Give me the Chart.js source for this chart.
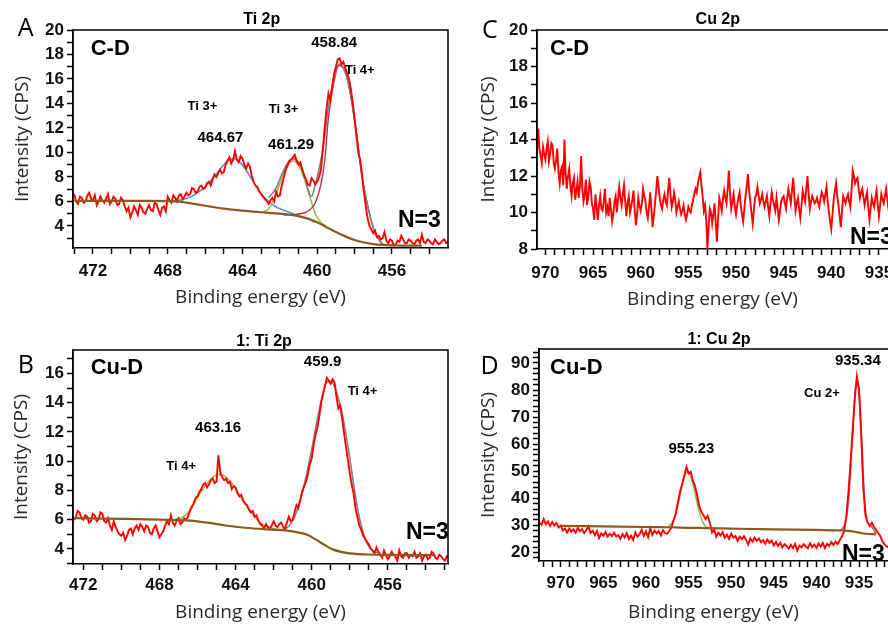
<!DOCTYPE html>
<html><head><meta charset="utf-8">
<script src="https://cdn.jsdelivr.net/npm/chart.js@4.4.0/dist/chart.umd.min.js"></script>
<style>
html,body{margin:0;padding:0;background:#fff;overflow:hidden;width:888px;height:624px;}
canvas{position:absolute;}
</style></head><body>
<canvas id="cA" width="452" height="312" style="left:0;top:0"></canvas>
<canvas id="cB" width="452" height="312" style="left:0;top:312px"></canvas>
<canvas id="cC" width="436" height="312" style="left:452px;top:0"></canvas>
<canvas id="cD" width="436" height="312" style="left:452px;top:312px"></canvas>
<script>
// ---------- Panel A : C-D, Ti 2p ----------
const aRaw = [[473.0,6.6],[472.9,6.0],[472.8,5.8],[472.7,6.4],[472.6,6.3],[472.5,5.9],[472.4,6.0],[472.3,6.5],[472.2,6.7],[472.1,6.2],[472.0,6.1],[471.9,6.5],[471.8,5.7],[471.7,6.0],[471.6,6.4],[471.5,6.1],[471.4,5.9],[471.3,6.2],[471.2,6.6],[471.1,5.8],[471.0,6.0],[470.9,6.4],[470.8,6.2],[470.7,5.7],[470.6,5.8],[470.5,6.3],[470.4,6.1],[470.3,5.6],[470.2,5.2],[470.1,5.5],[470.0,4.7],[469.9,5.1],[469.8,5.6],[469.7,5.3],[469.6,4.9],[469.5,5.7],[469.4,5.5],[469.3,5.1],[469.2,5.0],[469.1,5.4],[469.0,5.7],[468.9,5.3],[468.8,5.2],[468.7,5.9],[468.6,5.8],[468.5,5.3],[468.4,4.9],[468.3,5.5],[468.2,5.6],[468.1,5.2],[468.0,6.4],[467.9,6.1],[467.8,5.9],[467.7,6.5],[467.6,6.3],[467.5,6.0],[467.4,6.5],[467.3,6.6],[467.2,6.2],[467.1,6.4],[467.0,6.7],[466.9,6.5],[466.8,6.6],[466.7,7.1],[466.6,7.0],[466.5,6.7],[466.4,6.8],[466.3,7.2],[466.2,7.3],[466.1,7.0],[466.0,7.1],[465.9,7.5],[465.8,7.6],[465.7,7.3],[465.6,7.8],[465.5,8.2],[465.4,8.0],[465.3,8.3],[465.2,8.6],[465.1,8.3],[465.0,8.4],[464.9,9.0],[464.8,9.3],[464.7,9.6],[464.6,9.1],[464.5,9.4],[464.4,10.1],[464.3,9.4],[464.2,9.2],[464.1,9.7],[464.0,9.5],[463.9,9.0],[463.8,8.7],[463.7,9.1],[463.6,8.8],[463.5,8.1],[463.4,7.6],[463.3,7.3],[463.2,7.2],[463.1,6.8],[463.0,6.6],[462.9,6.4],[462.8,6.2],[462.7,6.0],[462.6,5.8],[462.5,6.1],[462.4,6.3],[462.3,6.0],[462.2,6.8],[462.1,6.4],[462.0,6.5],[461.9,7.3],[461.8,7.9],[461.7,8.5],[461.6,8.9],[461.5,9.3],[461.4,9.4],[461.3,9.6],[461.2,9.8],[461.1,9.3],[461.0,9.0],[460.9,9.2],[460.8,8.6],[460.7,8.1],[460.6,7.8],[460.5,7.4],[460.4,7.3],[460.3,7.9],[460.2,7.7],[460.1,7.4],[460.0,7.6],[459.9,8.0],[459.8,8.6],[459.7,10.3],[459.6,12.0],[459.5,13.6],[459.4,14.8],[459.3,14.2],[459.2,15.4],[459.1,16.4],[459.0,17.0],[458.9,17.6],[458.8,17.7],[458.7,17.2],[458.6,17.4],[458.5,16.9],[458.4,16.5],[458.3,16.0],[458.2,15.2],[458.1,14.1],[458.0,12.8],[457.9,11.3],[457.8,10.0],[457.7,9.4],[457.6,8.2],[457.5,6.8],[457.4,5.6],[457.3,4.6],[457.2,4.0],[457.1,3.7],[457.0,3.4],[456.9,3.6],[456.8,3.1],[456.7,3.2],[456.6,2.9],[456.5,3.0],[456.4,3.5],[456.3,2.8],[456.2,2.6],[456.1,2.9],[456.0,2.8],[455.9,2.4],[455.8,2.5],[455.7,2.8],[455.6,2.7],[455.5,3.2],[455.4,2.9],[455.3,2.6],[455.2,2.6],[455.1,2.9],[455.0,2.8],[454.9,2.6],[454.8,2.5],[454.7,2.8],[454.6,2.9],[454.5,2.6],[454.4,3.3],[454.3,2.7],[454.2,2.6],[454.1,2.9],[454.0,2.8],[453.9,2.6],[453.8,2.5],[453.7,2.9],[453.6,2.7],[453.5,2.5],[453.4,2.6],[453.3,2.8],[453.2,2.9],[453.1,2.6],[453.0,2.7]];
const aBackground = [[473.0,6.05],[471.0,6.05],[469.0,6.05],[468.0,6.03],[467.5,6.0],[467.0,5.9],[466.0,5.65],[465.0,5.42],[464.0,5.25],[463.0,5.12],[462.0,5.0],[461.5,4.92],[461.0,4.8],[460.5,4.6],[460.0,4.3],[459.5,3.9],[459.0,3.5],[458.5,3.15],[458.0,2.85],[457.5,2.65],[457.0,2.52],[456.5,2.45],[456.0,2.42],[455.0,2.4],[454.4,2.4]];
const aTi3High = [[467.8,6.02],[467.4,6.1],[467.0,6.25],[466.5,6.6],[466.0,7.2],[465.5,8.05],[465.0,9.0],[464.7,9.45],[464.4,9.5],[464.1,9.15],[463.8,8.55],[463.5,7.8],[463.2,7.05],[462.9,6.45],[462.6,6.0],[462.2,5.55],[461.8,5.3],[461.3,5.0],[460.9,4.76],[460.5,4.58],[460.1,4.3]];
const aTi3Low = [[463.2,5.12],[462.8,5.2],[462.5,5.6],[462.2,6.6],[461.9,7.9],[461.6,8.9],[461.3,9.3],[461.0,9.0],[460.7,7.9],[460.4,6.4],[460.1,5.0],[459.8,4.3],[459.5,3.95]];
const aTi4 = [[461.8,4.9],[460.9,5.0],[460.4,5.3],[460.1,5.9],[459.8,7.4],[459.6,9.3],[459.4,12.8],[459.0,16.5],[458.85,17.1],[458.6,16.9],[458.3,15.4],[457.9,11.6],[457.6,8.0],[457.2,5.0],[456.9,3.4],[456.5,2.5]];
const aEnvelope = [[462.6,6.3],[462.2,7.1],[461.9,8.2],[461.6,9.1],[461.3,9.5],[461.0,9.2],[460.7,8.2],[460.5,7.0],[460.3,6.4],[460.1,7.4],[459.7,10.2],[459.4,13.7],[459.0,16.7],[458.85,17.2],[458.6,16.9],[458.3,15.4],[457.9,11.6],[457.6,8.0],[457.2,5.0],[456.9,3.4],[456.5,2.5]];
const aXTicks = [473,472,471,470,469,468,467,466,465,464,463,462,461,460,459,458,457,456,455,454];
const aXLabels = [472,468,464,460,456];
const aYTicks = [3,4,5,6,7,8,9,10,11,12,13,14,15,16,17,18,19,20];
const aYLabels = [4,6,8,10,12,14,16,18,20];
const aPeaks = ['464.67','461.29','458.84'];
const aStates = ['Ti 3+','Ti 3+','Ti 4+'];

// ---------- Panel B : Cu-D, Ti 2p ----------
const bRaw = [[472.6,6.4],[472.5,6.0],[472.4,6.1],[472.3,6.6],[472.2,6.5],[472.1,6.1],[472.0,6.0],[471.9,6.3],[471.8,6.2],[471.7,5.8],[471.6,5.9],[471.5,6.4],[471.4,6.3],[471.3,5.9],[471.2,6.0],[471.1,6.5],[471.0,6.4],[470.9,5.9],[470.8,5.8],[470.7,6.1],[470.6,5.6],[470.5,5.3],[470.4,5.9],[470.3,5.5],[470.2,5.2],[470.1,5.0],[470.0,4.9],[469.9,5.1],[469.8,4.6],[469.7,4.9],[469.6,5.3],[469.5,5.4],[469.4,5.0],[469.3,5.4],[469.2,5.6],[469.1,5.3],[469.0,5.7],[468.9,5.5],[468.8,5.2],[468.7,5.6],[468.6,5.5],[468.5,5.1],[468.4,5.0],[468.3,5.4],[468.2,5.6],[468.1,5.2],[468.0,4.8],[467.9,5.0],[467.8,5.2],[467.7,5.6],[467.6,5.9],[467.5,5.7],[467.4,6.3],[467.3,5.8],[467.2,5.6],[467.1,5.9],[467.0,6.1],[466.9,5.7],[466.8,5.8],[466.7,6.1],[466.6,6.0],[466.5,6.2],[466.4,6.6],[466.3,6.9],[466.2,7.1],[466.1,7.5],[466.0,7.6],[465.9,7.9],[465.8,8.1],[465.7,8.4],[465.6,8.5],[465.5,8.2],[465.4,8.4],[465.3,8.7],[465.2,8.8],[465.1,8.5],[465.0,8.6],[464.9,10.4],[464.8,9.2],[464.7,8.9],[464.6,8.7],[464.5,8.8],[464.4,8.5],[464.3,8.6],[464.2,8.1],[464.1,8.3],[464.0,8.2],[463.9,7.8],[463.8,7.6],[463.7,7.7],[463.6,7.3],[463.5,7.1],[463.4,7.0],[463.3,6.7],[463.2,6.5],[463.1,6.6],[463.0,6.2],[462.9,6.3],[462.8,5.9],[462.7,5.7],[462.6,5.6],[462.5,5.4],[462.4,5.7],[462.3,5.5],[462.2,5.4],[462.1,5.6],[462.0,5.9],[461.9,5.6],[461.8,5.5],[461.7,5.7],[461.6,5.8],[461.5,5.5],[461.4,5.4],[461.3,5.8],[461.2,6.2],[461.1,5.9],[461.0,6.0],[460.9,6.5],[460.8,7.0],[460.7,6.8],[460.6,7.4],[460.5,7.9],[460.4,8.3],[460.3,8.6],[460.2,9.1],[460.1,9.8],[460.0,10.2],[459.9,11.1],[459.8,11.8],[459.7,12.3],[459.6,13.1],[459.5,14.0],[459.4,14.6],[459.3,15.2],[459.2,15.7],[459.1,15.5],[459.0,15.3],[458.9,15.6],[458.8,15.4],[458.7,14.4],[458.6,13.6],[458.5,13.8],[458.4,12.9],[458.3,11.9],[458.2,11.0],[458.1,10.1],[458.0,9.2],[457.9,8.4],[457.8,7.8],[457.7,6.8],[457.6,6.2],[457.5,5.6],[457.4,5.3],[457.3,4.9],[457.2,4.7],[457.1,4.5],[457.0,4.3],[456.9,4.0],[456.8,3.9],[456.7,3.7],[456.6,4.1],[456.5,3.8],[456.4,3.6],[456.3,3.4],[456.2,3.9],[456.1,3.6],[456.0,3.3],[455.9,3.5],[455.8,3.8],[455.7,3.6],[455.6,3.5],[455.5,3.2],[455.4,3.9],[455.3,3.5],[455.2,3.4],[455.1,3.7],[455.0,3.7],[454.9,3.4],[454.8,3.6],[454.7,3.5],[454.6,3.8],[454.5,3.4],[454.4,3.5],[454.3,3.7],[454.2,3.2],[454.1,3.5],[454.0,3.6],[453.9,3.3],[453.8,3.4],[453.7,3.8],[453.6,3.7],[453.5,3.4],[453.4,3.3],[453.3,3.6],[453.2,3.5],[453.1,3.3],[453.0,3.2],[452.9,3.5],[452.8,3.4]];
const bBackground = [[472.5,6.1],[470.0,6.05],[468.0,6.0],[466.6,5.95],[465.5,5.8],[464.5,5.6],[463.5,5.45],[462.5,5.35],[461.5,5.28],[460.6,5.1],[460.2,4.95],[459.8,4.65],[459.3,4.25],[458.9,3.97],[458.4,3.78],[458.0,3.7],[457.0,3.62],[456.0,3.6],[453.5,3.57]];
const bTi4High = [[467.2,6.0],[466.8,6.15],[466.4,6.6],[466.0,7.5],[465.6,8.3],[465.2,8.9],[464.9,9.1],[464.6,9.0],[464.2,8.5],[463.8,7.7],[463.4,6.9],[463.0,6.2],[462.6,5.7],[462.2,5.45],[461.8,5.35],[461.3,5.28]];
const bEnvelope = [[461.6,5.3],[461.2,5.55],[460.9,6.2],[460.6,7.3],[460.3,8.9],[460.0,10.8],[459.7,12.9],[459.4,14.7],[459.2,15.4],[459.0,15.5],[458.8,15.1],[458.6,14.3],[458.3,12.6],[458.0,10.2],[457.7,7.6],[457.4,5.6],[457.1,4.4],[456.8,3.9],[456.4,3.7]];
const bXTicks = [472,471,470,469,468,467,466,465,464,463,462,461,460,459,458,457,456,455,454,453];
const bXLabels = [472,468,464,460,456];
const bYTicks = [3,4,5,6,7,8,9,10,11,12,13,14,15,16,17];
const bYLabels = [4,6,8,10,12,14,16];
const bPeaks = ['463.16','459.9'];
const bStates = ['Ti 4+','Ti 4+'];

// ---------- Panel C : C-D, Cu 2p ----------
const cRaw = [[971.0,12.6],[970.875,13.4],[970.75,14.6],[970.625,13.5],[970.5,13.1],[970.375,12.7],[970.25,13.6],[970.125,13.2],[970.0,12.9],[969.875,13.5],[969.75,13.9],[969.625,12.8],[969.5,13.2],[969.375,13.8],[969.25,13.7],[969.125,12.7],[969.0,12.4],[968.875,12.9],[968.75,13.5],[968.625,12.2],[968.5,11.6],[968.375,12.3],[968.25,12.5],[968.125,11.5],[968.0,14.0],[967.875,12.1],[967.75,11.3],[967.625,12.0],[967.5,12.4],[967.375,11.5],[967.25,10.9],[967.125,11.6],[967.0,11.9],[966.875,10.7],[966.75,11.2],[966.625,11.7],[966.5,10.8],[966.375,11.4],[966.25,13.1],[966.125,11.3],[966.0,10.6],[965.875,11.0],[965.75,11.8],[965.625,10.4],[965.5,10.9],[965.375,11.7],[965.25,11.4],[965.125,10.5],[965.0,10.2],[964.875,9.6],[964.75,11.0],[964.625,10.3],[964.5,9.6],[964.375,10.4],[964.25,10.9],[964.125,10.2],[964.0,10.1],[963.875,10.6],[963.75,11.3],[963.625,10.0],[963.5,10.3],[963.375,9.8],[963.25,10.8],[963.125,10.2],[963.0,9.5],[962.875,9.9],[962.75,10.6],[962.625,10.9],[962.5,10.0],[962.375,10.7],[962.25,11.4],[962.125,10.8],[962.0,10.4],[961.875,11.0],[961.75,11.5],[961.625,10.6],[961.5,9.8],[961.375,10.5],[961.25,10.9],[961.125,10.0],[961.0,10.3],[960.875,10.7],[960.75,11.2],[960.625,10.1],[960.5,9.3],[960.375,9.9],[960.25,10.8],[960.125,10.4],[960.0,10.1],[959.875,10.5],[959.75,11.3],[959.625,10.9],[959.5,10.6],[959.375,10.0],[959.25,9.7],[959.125,10.3],[959.0,11.1],[958.875,10.2],[958.75,9.2],[958.625,9.8],[958.5,10.5],[958.375,11.2],[958.25,12.0],[958.125,11.4],[958.0,10.8],[957.875,10.4],[957.75,10.2],[957.625,10.7],[957.5,11.0],[957.375,10.6],[957.25,10.4],[957.125,11.2],[957.0,11.9],[956.875,11.0],[956.75,10.3],[956.625,10.6],[956.5,11.1],[956.375,10.7],[956.25,10.0],[956.125,10.3],[956.0,10.6],[955.875,10.2],[955.75,9.9],[955.625,10.1],[955.5,10.4],[955.375,9.9],[955.25,9.6],[955.125,9.9],[955.0,10.3],[954.875,10.1],[954.75,10.0],[954.625,10.4],[954.5,10.7],[954.375,11.0],[954.25,11.3],[954.125,11.1],[954.0,11.6],[953.875,11.9],[953.75,12.2],[953.625,11.5],[953.5,10.9],[953.375,10.1],[953.25,10.4],[953.125,9.6],[953.0,8.0],[952.875,9.2],[952.75,10.2],[952.625,10.0],[952.5,9.4],[952.375,9.9],[952.25,10.5],[952.125,9.4],[952.0,8.4],[951.875,9.7],[951.75,10.8],[951.625,10.5],[951.5,10.1],[951.375,10.7],[951.25,11.2],[951.125,10.8],[951.0,10.5],[950.875,11.3],[950.75,12.3],[950.625,11.0],[950.5,10.2],[950.375,10.6],[950.25,11.0],[950.125,10.3],[950.0,9.9],[949.875,10.4],[949.75,10.8],[949.625,11.1],[949.5,10.4],[949.375,9.9],[949.25,9.5],[949.125,10.2],[949.0,10.9],[948.875,11.4],[948.75,12.1],[948.625,11.2],[948.5,10.6],[948.375,10.0],[948.25,9.4],[948.125,10.1],[948.0,10.8],[947.875,11.0],[947.75,11.4],[947.625,10.9],[947.5,10.5],[947.375,10.7],[947.25,11.0],[947.125,10.6],[947.0,10.3],[946.875,10.6],[946.75,10.9],[946.625,10.3],[946.5,9.8],[946.375,10.5],[946.25,11.1],[946.125,10.7],[946.0,10.4],[945.875,10.1],[945.75,10.8],[945.625,10.2],[945.5,9.6],[945.375,10.1],[945.25,10.6],[945.125,10.8],[945.0,10.9],[944.875,10.5],[944.75,10.2],[944.625,10.8],[944.5,11.3],[944.375,10.9],[944.25,10.5],[944.125,11.2],[944.0,11.9],[943.875,10.9],[943.75,10.1],[943.625,10.5],[943.5,10.8],[943.375,10.2],[943.25,9.7],[943.125,10.4],[943.0,11.2],[942.875,10.9],[942.75,10.6],[942.625,11.3],[942.5,12.0],[942.375,11.0],[942.25,10.2],[942.125,10.6],[942.0,10.9],[941.875,10.7],[941.75,10.5],[941.625,10.6],[941.5,10.8],[941.375,10.5],[941.25,10.3],[941.125,10.8],[941.0,11.1],[940.875,10.9],[940.75,10.6],[940.625,11.0],[940.5,11.4],[940.375,10.6],[940.25,10.0],[940.125,9.5],[940.0,9.1],[939.875,9.9],[939.75,10.7],[939.625,11.2],[939.5,11.6],[939.375,10.9],[939.25,10.4],[939.125,9.8],[939.0,9.2],[938.875,10.1],[938.75,10.9],[938.625,10.7],[938.5,10.5],[938.375,10.8],[938.25,11.0],[938.125,10.6],[938.0,10.3],[937.875,11.2],[937.75,12.3],[937.625,12.0],[937.5,11.6],[937.375,11.8],[937.25,11.9],[937.125,11.3],[937.0,10.8],[936.875,11.1],[936.75,11.3],[936.625,10.8],[936.5,10.4],[936.375,10.8],[936.25,11.1],[936.125,10.3],[936.0,9.6],[935.875,10.2],[935.75,10.8],[935.625,10.5],[935.5,10.3],[935.375,10.8],[935.25,11.2],[935.125,10.4],[935.0,9.8],[934.875,10.4],[934.75,11.0],[934.625,10.7],[934.5,10.5],[934.375,10.9],[934.25,11.3],[934.125,10.7],[934.0,10.2],[933.875,10.6],[933.75,10.9],[933.625,10.7],[933.5,10.6],[933.375,10.9],[933.25,11.1],[933.125,10.7],[933.0,10.4]];
const cXTicks = [970,969,968,967,966,965,964,963,962,961,960,959,958,957,956,955,954,953,952,951,950,949,948,947,946,945,944,943,942,941,940,939,938,937,936,935];
const cXLabels = [970,965,960,955,950,945,940,935];
const cYTicks = [8,9,10,11,12,13,14,15,16,17,18,19,20];
const cYLabels = [8,10,12,14,16,18,20];

// ---------- Panel D : Cu-D, Cu 2p ----------
const dRaw = [[972.5,31.0],[972.25,30.2],[972.0,32.3],[971.75,30.4],[971.5,31.5],[971.25,29.8],[971.0,31.2],[970.75,30.0],[970.5,30.9],[970.25,29.2],[970.0,29.9],[969.75,28.1],[969.5,28.8],[969.25,27.4],[969.0,28.9],[968.75,27.6],[968.5,28.5],[968.25,27.3],[968.0,29.0],[967.75,27.8],[967.5,28.6],[967.25,27.1],[967.0,28.3],[966.75,29.7],[966.5,27.2],[966.25,28.0],[966.0,26.4],[965.75,27.9],[965.5,25.3],[965.25,27.0],[965.0,26.2],[964.75,27.5],[964.5,25.8],[964.25,26.9],[964.0,26.0],[963.75,27.3],[963.5,25.9],[963.25,26.4],[963.0,25.1],[962.75,26.8],[962.5,25.5],[962.25,27.1],[962.0,25.0],[961.75,26.2],[961.5,24.6],[961.25,27.4],[961.0,25.8],[960.75,26.7],[960.5,28.4],[960.25,26.1],[960.0,27.8],[959.75,25.6],[959.5,28.9],[959.25,26.5],[959.0,28.1],[958.75,27.0],[958.5,27.9],[958.25,26.3],[958.0,28.2],[957.75,27.1],[957.5,26.9],[957.25,28.0],[957.0,29.4],[956.75,32.0],[956.5,34.5],[956.25,38.6],[956.0,42.5],[955.75,45.3],[955.5,48.4],[955.25,51.5],[955.0,49.2],[954.75,49.8],[954.5,46.5],[954.25,44.6],[954.0,41.2],[953.75,37.0],[953.5,35.1],[953.25,33.6],[953.0,32.3],[952.75,33.5],[952.5,31.0],[952.25,27.4],[952.0,28.6],[951.75,25.8],[951.5,27.3],[951.25,26.2],[951.0,27.5],[950.75,25.4],[950.5,26.6],[950.25,25.0],[950.0,26.9],[949.75,25.5],[949.5,26.1],[949.25,24.2],[949.0,25.8],[948.75,24.9],[948.5,26.0],[948.25,24.6],[948.0,22.9],[947.75,25.2],[947.5,24.0],[947.25,25.5],[947.0,24.3],[946.75,25.1],[946.5,23.8],[946.25,24.6],[946.0,23.2],[945.75,24.8],[945.5,23.5],[945.25,24.4],[945.0,22.6],[944.75,23.9],[944.5,22.4],[944.25,23.6],[944.0,21.8],[943.75,23.0],[943.5,22.3],[943.25,21.4],[943.0,22.8],[942.75,21.6],[942.5,23.1],[942.25,20.7],[942.0,22.5],[941.75,21.9],[941.5,23.0],[941.25,22.2],[941.0,21.5],[940.75,23.4],[940.5,22.0],[940.25,22.9],[940.0,21.7],[939.75,23.3],[939.5,22.1],[939.25,23.5],[939.0,21.6],[938.75,23.2],[938.5,22.4],[938.25,23.8],[938.0,22.7],[937.75,24.0],[937.5,23.1],[937.25,24.6],[937.0,25.9],[936.75,27.8],[936.5,33.0],[936.25,42.0],[936.0,53.0],[935.75,65.0],[935.5,77.0],[935.25,85.0],[935.0,80.0],[934.75,64.0],[934.5,44.0],[934.25,34.0],[934.0,31.2],[933.75,29.8],[933.5,31.0],[933.25,29.5],[933.0,28.4],[932.75,27.2],[932.5,26.0],[932.25,24.1],[932.0,22.9],[931.75,22.2],[931.5,21.8],[931.25,22.5],[931.0,21.9],[930.75,22.4],[930.5,22.0]];
const dBackground = [[970.0,29.8],[965.0,29.6],[960.0,29.4],[957.0,29.3],[955.0,29.1],[953.0,29.0],[950.0,28.8],[945.0,28.5],[940.0,28.3],[937.0,28.1],[936.0,27.9],[935.3,27.5],[934.5,27.0],[933.8,26.8],[933.0,26.7]];
const dCu2p12 = [[957.5,29.35],[957.1,30.3],[956.7,32.3],[956.3,36.5],[956.0,41.0],[955.7,45.5],[955.4,48.8],[955.1,49.8],[954.8,48.5],[954.5,45.5],[954.2,41.3],[953.9,37.0],[953.6,33.5],[953.3,31.0],[953.0,29.6],[952.7,29.1]];
const dCu2p32 = [[937.2,28.2],[936.8,29.5],[936.5,32.5],[936.2,40.0],[935.95,52.0],[935.7,66.0],[935.45,79.0],[935.25,84.0],[935.05,81.0],[934.8,69.0],[934.55,52.0],[934.3,38.0],[934.05,31.5],[933.7,30.2],[933.3,28.5],[933.0,26.9]];
const dXTicks = [972,971,970,969,968,967,966,965,964,963,962,961,960,959,958,957,956,955,954,953,952,951,950,949,948,947,946,945,944,943,942,941,940,939,938,937,936,935,934,933,932];
const dXLabels = [970,965,960,955,950,945,940,935];
const dYTicks = [18,20,22,24,26,28,30,32,34,36,38,40,42,44,46,48,50,52,54,56,58,60,62,64,66,68,70,72,74,76,78,80,82,84,86,88,90,92,94];
const dYLabels = [20,30,40,50,60,70,80,90];
const dPeaks = ['955.23','935.34'];
const dStates = ['Cu 2+'];

// ---------- drawing ----------
const SANS = '"Liberation Sans", Arial, sans-serif';
const TITLEF = '"Open Sans", "Liberation Sans", sans-serif';
const RED = '#ff0000', BROWN = '#8c5a1e', BLUE = '#5b8fc9', GREEN = '#93c14f', GRAY = '#808080', TI4 = '#c0304a';

const panelText = {
  id: 'panelText',
  afterDraw(chart, args, opts) {
    const ctx = chart.ctx, ca = chart.chartArea, xs = chart.scales.x, ys = chart.scales.y;
    ctx.save();
    ctx.strokeStyle = '#000'; ctx.lineWidth = 1.5;
    ctx.beginPath();
    ctx.moveTo(ca.left, ca.bottom); ctx.lineTo(ca.left, ca.top); ctx.lineTo(ca.right, ca.top);
    if (opts.rightBorder) ctx.lineTo(ca.right, ca.bottom);
    ctx.stroke();
    ctx.fillStyle = '#000'; ctx.textBaseline = 'middle';
    for (const t of opts.items) {
      ctx.font = t.font; ctx.textAlign = t.align || 'center';
      const px = t.e !== undefined ? xs.getPixelForValue(t.e) : t.px;
      const py = t.v !== undefined ? ys.getPixelForValue(t.v) : t.py;
      ctx.fillText(t.text, px, py);
    }
    ctx.restore();
  }
};

function line(data, color, width, smooth) {
  return {data, borderColor: color, borderWidth: width, pointRadius: 0, fill: false,
          tension: smooth ? 0.4 : 0, cubicInterpolationMode: smooth ? 'monotone' : 'default'};
}

function makeChart(id, p) {
  const canvas = document.getElementById(id);
  const W = canvas.width, H = canvas.height;
  return new Chart(canvas, {
    type: 'line',
    data: {datasets: p.datasets},
    plugins: [panelText],
    options: {
      responsive: false, animation: false, devicePixelRatio: 1,
      layout: {padding: {left: 0, top: p.area.top, right: W - p.area.right, bottom: 0}},
      plugins: {legend: {display: false}, tooltip: {enabled: false}, title: {display: false},
                panelText: {items: p.texts, rightBorder: p.rightBorder}},
      scales: {
        x: {type: 'linear', reverse: true, min: p.xMin, max: p.xMax,
            afterBuildTicks: s => { s.ticks = p.xTicks.map(v => ({value: v})); },
            afterFit: s => { s.height = H - p.area.bottom; s.paddingLeft = 0; s.paddingRight = 0; },
            ticks: {autoSkip: false, maxRotation: 0, padding: p.xTickPad, color: '#111',
                    font: {family: SANS, weight: 'bold', size: 17},
                    callback: v => p.xLabels.includes(v) ? String(v) : ''},
            grid: {drawOnChartArea: false, drawTicks: true, tickLength: 6, tickWidth: 1.5, tickColor: '#000'},
            border: {display: true, color: '#000', width: 1.5},
            title: {display: true, text: 'Binding energy (eV)', color: '#2a2a2a',
                    font: {family: TITLEF, size: 19}, padding: {top: 0, bottom: p.xTitlePad}}},
        y: {type: 'linear', min: p.yMin, max: p.yMax,
            afterBuildTicks: s => { s.ticks = p.yTicks.map(v => ({value: v})); },
            afterFit: s => { s.width = p.area.left; s.paddingTop = 0; s.paddingBottom = 0; },
            ticks: {autoSkip: false, padding: 3, color: '#111',
                    font: {family: SANS, weight: 'bold', size: 17},
                    callback: v => p.yLabels.includes(v) ? String(v) : ''},
            grid: {drawOnChartArea: false, drawTicks: true, tickLength: 6, tickWidth: 1.5, tickColor: '#000'},
            border: {display: true, color: '#000', width: 1.5},
            title: {display: true, text: 'Intensity (CPS)', color: '#2a2a2a',
                    font: {family: TITLEF, size: 19}, padding: {top: p.yTitlePad, bottom: 0}}}
      }
    }
  });
}

const LETTER = '25px ' + TITLEF, PTITLE = 'bold 16px ' + SANS, SAMPLE = 'bold 22px ' + SANS,
      NFONT = 'bold 23px ' + SANS, PEAK = 'bold 15px ' + SANS, STATE = 'bold 13px ' + SANS;
const RAWW = 1.9;

// dataset index 0 is painted last (on top): background, then raw data, then fitted components
makeChart('cA', {
  area: {left: 73, top: 30, right: 448, bottom: 248},
  xMin: 453.0, xMax: 473.07, yMin: 2.2, yMax: 20,
  xTicks: aXTicks, xLabels: aXLabels, yTicks: aYTicks, yLabels: aYLabels,
  xTickPad: 7, xTitlePad: 3, yTitlePad: 11, rightBorder: true,
  datasets: [line(aBackground, BROWN, 2.2, true), line(aRaw, RED, RAWW, false),
             line(aEnvelope, GRAY, 1.6, true), line(aTi4, TI4, 1.4, true),
             line(aTi3Low, GREEN, 1.6, true), line(aTi3High, BLUE, 1.6, true)],
  texts: [
    {text: 'A', px: 25.7, py: 29, font: LETTER},
    {text: 'Ti 2p', px: 261.7, py: 20, font: PTITLE},
    {text: 'C-D', px: 90.7, py: 49, align: 'left', font: SAMPLE},
    {text: 'N=3', px: 398, py: 221, align: 'left', font: NFONT},
    {text: aStates[0], e: 466.14, v: 13.74, font: STATE},
    {text: aPeaks[0], e: 465.18, v: 11.16, font: PEAK},
    {text: aStates[1], e: 461.8, v: 13.53, font: STATE},
    {text: aPeaks[1], e: 461.4, v: 10.6, font: PEAK},
    {text: aPeaks[2], e: 459.09, v: 18.91, font: PEAK},
    {text: aStates[2], e: 457.72, v: 16.67, font: STATE}
  ]
});

makeChart('cB', {
  area: {left: 73, top: 38, right: 448, bottom: 252},
  xMin: 452.84, xMax: 472.54, yMin: 2.97, yMax: 17.6,
  xTicks: bXTicks, xLabels: bXLabels, yTicks: bYTicks, yLabels: bYLabels,
  xTickPad: 5, xTitlePad: 0, yTitlePad: 10, rightBorder: true,
  datasets: [line(bBackground, BROWN, 2.2, true), line(bRaw, RED, RAWW, false),
             line(bEnvelope, GRAY, 1.6, true), line(bTi4High, GREEN, 1.6, true)],
  texts: [
    {text: 'B', px: 25.7, py: 54, font: LETTER},
    {text: '1: Ti 2p', px: 264, py: 30, font: PTITLE},
    {text: 'Cu-D', px: 90.7, py: 56, align: 'left', font: SAMPLE},
    {text: 'N=3', px: 406, py: 221, align: 'left', font: NFONT},
    {text: bPeaks[1], e: 459.43, v: 16.8, font: PEAK},
    {text: bStates[1], e: 457.33, v: 14.75, font: STATE},
    {text: bPeaks[0], e: 464.92, v: 12.25, font: PEAK},
    {text: bStates[0], e: 466.86, v: 9.63, font: STATE}
  ]
});

makeChart('cC', {
  area: {left: 85, top: 30, right: 436, bottom: 249},
  xMin: 934.05, xMax: 970.88, yMin: 8, yMax: 20,
  xTicks: cXTicks, xLabels: cXLabels, yTicks: cYTicks, yLabels: cYLabels,
  xTickPad: 8, xTitlePad: 1, yTitlePad: 25, rightBorder: false,
  datasets: [line(cRaw, RED, RAWW, false)],
  texts: [
    {text: 'C', px: 37.8, py: 30.5, font: LETTER},
    {text: 'Cu 2p', px: 265.8, py: 20, font: PTITLE},
    {text: 'C-D', px: 98, py: 49, align: 'left', font: SAMPLE},
    {text: 'N=3', px: 398, py: 237.5, align: 'left', font: NFONT}
  ]
});

makeChart('cD', {
  area: {left: 87, top: 37, right: 436, bottom: 249},
  xMin: 931.6, xMax: 972.55, yMin: 16.83, yMax: 95.16,
  xTicks: dXTicks, xLabels: dXLabels, yTicks: dYTicks, yLabels: dYLabels,
  xTickPad: 6, xTitlePad: 0, yTitlePad: 25, rightBorder: false,
  datasets: [line(dBackground, BROWN, 2.2, true), line(dRaw, RED, RAWW, false),
             line(dCu2p32, '#8a7a8a', 1.6, true), line(dCu2p12, GREEN, 1.6, true)],
  texts: [
    {text: 'D', px: 37.5, py: 55, font: LETTER},
    {text: '1: Cu 2p', px: 267, py: 27.5, font: PTITLE},
    {text: 'Cu-D', px: 98, py: 56, align: 'left', font: SAMPLE},
    {text: 'N=3', px: 390, py: 242.5, align: 'left', font: NFONT},
    {text: dPeaks[1], e: 935.14, v: 90.9, font: PEAK},
    {text: dStates[0], e: 939.35, v: 78.8, font: STATE},
    {text: dPeaks[0], e: 954.67, v: 58.3, font: PEAK}
  ]
});
</script>
</body></html>
